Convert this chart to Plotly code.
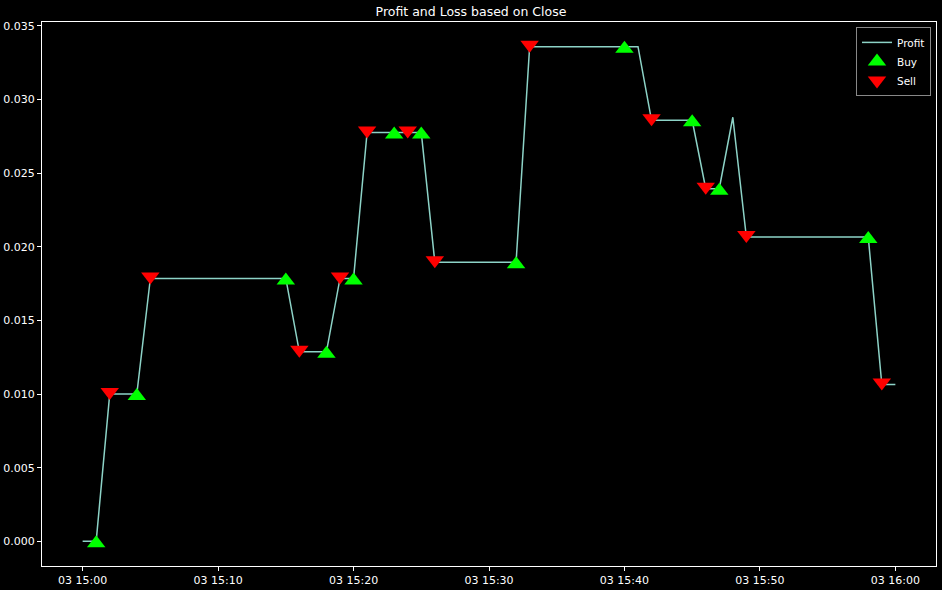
import plotly.graph_objects as go
from datetime import datetime, timedelta

# ---- data ----
start = datetime(2021, 6, 3, 15, 0)
minutes = list(range(61))
profit = ([0.0, 0.0, 0.0100, 0.0100, 0.0100]
          + [0.01785] * 11          # 15:05 - 15:15
          + [0.01287] * 3           # 15:16 - 15:18
          + [0.01785] * 2           # 15:19 - 15:20
          + [0.02777] * 5           # 15:21 - 15:25
          + [0.01896] * 7           # 15:26 - 15:32
          + [0.03359] * 9           # 15:33 - 15:41
          + [0.02859] * 4           # 15:42 - 15:45
          + [0.02395] * 2           # 15:46 - 15:47
          + [0.02880]               # 15:48
          + [0.02066] * 10          # 15:49 - 15:58
          + [0.01065] * 2)          # 15:59 - 16:00
buy_minutes = [1, 4, 15, 18, 20, 23, 25, 32, 40, 45, 47, 58]
sell_minutes = [2, 5, 16, 19, 21, 24, 26, 33, 42, 46, 49, 59]

times = [start + timedelta(minutes=m) for m in minutes]
buy_t = [times[m] for m in buy_minutes]
buy_v = [profit[m] for m in buy_minutes]
sell_t = [times[m] for m in sell_minutes]
sell_v = [profit[m] for m in sell_minutes]

FONT = "DejaVu Sans"
W, H = 942, 590
M = dict(l=42, r=6, t=22, b=24)
MSIZE = 16
y_lo, y_hi = -0.00168, 0.03527

# plotly triangles are anchored a quarter radius off their box centre;
# overlay axes shifted by that offset so the triangles sit centred on their values
plot_h = H - M["t"] - M["b"]
off_px = (MSIZE / 2) * 0.25
d = off_px * (y_hi - y_lo) / plot_h

fig = go.Figure()
fig.add_trace(go.Scatter(x=times, y=profit, mode="lines", name="Profit",
                         line=dict(color="#8dd3c7", width=1.5)))
fig.add_trace(go.Scatter(x=buy_t, y=buy_v, mode="markers", name="Buy", yaxis="y2",
                         marker=dict(symbol="triangle-up", color="#00ff00", size=MSIZE,
                                     line=dict(width=0))))
fig.add_trace(go.Scatter(x=sell_t, y=sell_v, mode="markers", name="Sell", yaxis="y3",
                         marker=dict(symbol="triangle-down", color="#ff0000", size=MSIZE,
                                     line=dict(width=0))))

x0 = start - timedelta(minutes=3)
x1 = start + timedelta(minutes=63)

hidden = dict(overlaying="y", visible=False, showgrid=False, zeroline=False,
              automargin=False)
fig.update_layout(
    width=W, height=H,
    paper_bgcolor="black", plot_bgcolor="black",
    margin=M,
    font=dict(family=FONT, size=11, color="white"),
    title=dict(text="Profit and Loss based on Close", x=0.5, xanchor="center",
               y=0.988, yanchor="top", font=dict(family=FONT, size=12.5, color="white")),
    showlegend=True,
    legend=dict(x=0.9944, y=0.991, xanchor="right", yanchor="top",
                bgcolor="black", bordercolor="#888888", borderwidth=1,
                font=dict(family=FONT, size=10.5, color="white"),
                itemwidth=30, tracegroupgap=0),
    yaxis2=dict(range=[y_lo + d, y_hi + d], **hidden),
    yaxis3=dict(range=[y_lo - d, y_hi - d], **hidden),
)
fig.update_xaxes(range=[x0, x1], type="date",
                 tickmode="linear", tick0=start, dtick=600000,
                 tickformat="%d %H:%M", automargin=False,
                 showgrid=False, zeroline=False,
                 showline=True, linecolor="white", linewidth=1, mirror=True,
                 ticks="outside", ticklen=4, tickcolor="white",
                 tickfont=dict(family=FONT, size=11, color="white"))
fig.update_layout(yaxis=dict(range=[y_lo, y_hi],
                 tickmode="linear", tick0=0, dtick=0.005, tickformat=".3f",
                 automargin=False,
                 showgrid=False, zeroline=False,
                 showline=True, linecolor="white", linewidth=1, mirror=True,
                 ticks="outside", ticklen=4, tickcolor="white",
                 tickfont=dict(family=FONT, size=11, color="white")))

fig.write_html("out.html", config={"displayModeBar": False},
               post_script="document.body.style.margin='0';document.body.style.background='black';")
